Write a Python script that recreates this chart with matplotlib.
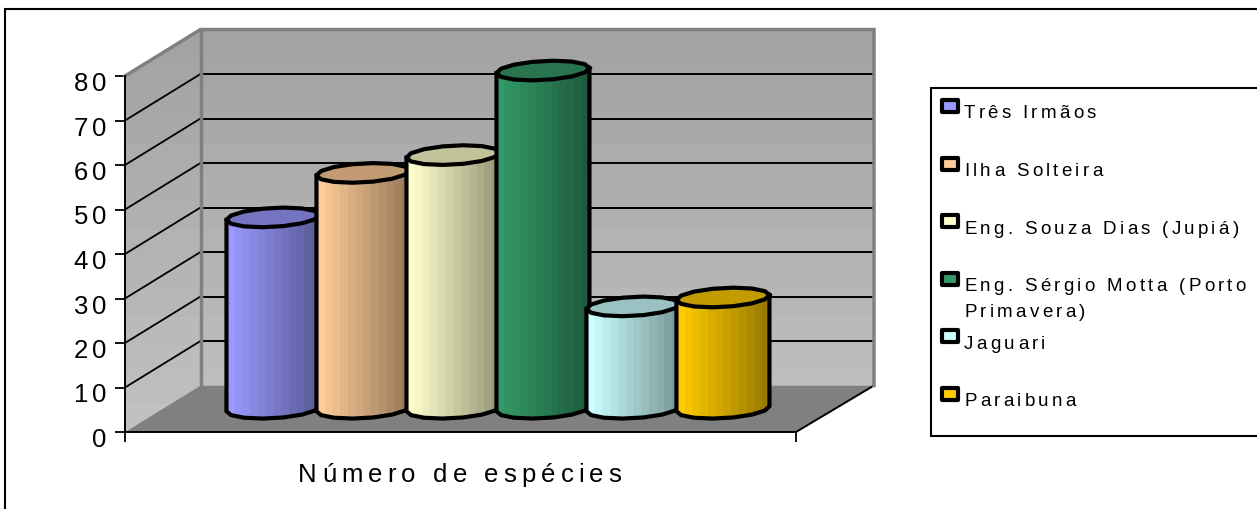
#!/usr/bin/env python3
# -*- coding: utf-8 -*-
import numpy as np
from matplotlib import pyplot as plt
from matplotlib.colors import LinearSegmentedColormap, to_rgb
from matplotlib.patches import Polygon, Rectangle
from matplotlib.text import Text
from matplotlib.transforms import Affine2D, IdentityTransform

categories = ['Três Irmãos', 'Ilha Solteira', 'Eng. Souza Dias (Jupiá)',
              'Eng. Sérgio Motta (Porto\nPrimavera)', 'Jaguari', 'Paraibuna']
values = [43, 53, 57, 76, 23, 25]
colors = ['#9999FF', '#FFCC99', '#FFFFCC', '#339966', '#CCFFFF', '#FFCC00']
y_ticks = [0, 10, 20, 30, 40, 50, 60, 70, 80]
x_title = 'Número de espécies'

W, H = 1257, 510
XMAX = 671 / 90.0    # x axis unit = one cylinder slot (90 px)
DEPTH_X = 75.5 / 90.0
DEPTH_Y = 46.5 / 4.45
WALL_R = XMAX + DEPTH_X + 2.5 / 90.0
FONT = 'Liberation Sans'


class TrackedText(Text):
    """Text with letter spacing, track is in pixels"""
    def __init__(self, *args, track=0, **kwargs):
        super().__init__(*args, **kwargs)
        self.track = track

    def draw(self, renderer):
        s = self.get_text()
        prop = self.get_fontproperties()
        x0, y0 = self.get_transform().transform(self.get_position())
        adv = [renderer.get_text_width_height_descent(s[:i], prop, False)[0]
               for i in range(len(s) + 1)]
        total = adv[-1] + self.track * (len(s) - 1)
        shift = {'left': 0, 'center': total / 2, 'right': total}[self.get_ha()]
        for i, ch in enumerate(s):
            t = Text(x0 - shift + adv[i] + i * self.track, y0, ch,
                     transform=IdentityTransform(), fontproperties=prop,
                     color=self.get_color(), ha='left', va='baseline')
            t.set_figure(self.get_figure())
            t.draw(renderer)


def shade(color, k):
    return tuple(c * k for c in to_rgb(color))


def draw_cylinder(ax, i, value, color):
    width = 93 / 90.0
    a = width / 2
    b = 9.5 / 4.45
    skew = 2.5 / 4.45
    cx = 0.708 + i + a + DEPTH_X / 2
    y0 = DEPTH_Y / 2

    # body in vertical bands, going darker to the right. each band runs to the
    # right end and the next paints over it, so no seams show
    edges = np.linspace(-1, 1, 13)
    for j in range(12):
        u = np.linspace(edges[j], 1, 30)
        low = y0 - b * np.sqrt(1 - u ** 2) + skew * u
        high = value + y0 + skew * u
        k = 1 - 0.4 * j / 11
        ax.fill_between(cx + a * u, low, high, color=shade(color, k),
                        linewidth=0, antialiased=False, clip_on=False, zorder=3)

    # coarse polygon for the ellipses, as in the original
    t = np.linspace(0, 2 * np.pi, 15)
    ex = cx + a * np.cos(t)
    ey = value + y0 + b * np.sin(t) + skew * np.cos(t)
    ax.fill(ex, ey, color=shade(color, 0.76), linewidth=0, clip_on=False, zorder=3)
    ax.plot(ex, ey, color='black', lw=3, solid_joinstyle='round', clip_on=False, zorder=3)

    t = np.linspace(np.pi, 2 * np.pi, 8)
    ox = cx + a * np.cos(t)
    oy = y0 + b * np.sin(t) + skew * np.cos(t)
    ox = np.r_[cx - a, ox, cx + a]
    oy = np.r_[value + y0 - skew, oy, value + y0 + skew]
    ax.plot(ox, oy, color='black', lw=3, solid_joinstyle='round', clip_on=False, zorder=3)


def plot_figure():
    plt.rcParams['font.family'] = FONT
    fig = plt.figure(figsize=(W / 100, H / 100), dpi=100)
    ax = fig.add_axes([125 / W, (H - 433) / H, 671 / W, 356 / H])
    px = Affine2D().scale(1, -1).translate(0, H)  # pixels from top left

    top = y_ticks[-1]

    # walls with a soft vertical gradient
    wall_cmap = LinearSegmentedColormap.from_list('wall', ['#A3A3A3', '#C1C1C1'], N=14)
    im = ax.imshow(np.linspace(0, 1, 14).reshape(-1, 1), cmap=wall_cmap, aspect='auto',
                   extent=[0, WALL_R, 0, top + DEPTH_Y], zorder=0)
    walls = Polygon([(0, 0), (DEPTH_X, DEPTH_Y), (WALL_R, DEPTH_Y),
                     (WALL_R, top + DEPTH_Y), (DEPTH_X, top + DEPTH_Y), (0, top)],
                    transform=ax.transData)
    im.set_clip_path(walls)
    im.set_clip_box(fig.bbox)
    ax.set_xlim(0, XMAX)
    ax.set_ylim(0, top)

    # floor
    ax.add_patch(Polygon([(0, 0), (XMAX, 0), (WALL_R, DEPTH_Y), (DEPTH_X, DEPTH_Y)],
                         facecolor='#808080', edgecolor='none', clip_on=False, zorder=1))
    ax.plot([XMAX, WALL_R], [0, DEPTH_Y], color='black', lw=1.4, clip_on=False, zorder=2)

    # grid on both walls
    for v in y_ticks[1:-1]:
        ax.plot([DEPTH_X, WALL_R], [v + DEPTH_Y, v + DEPTH_Y], color='black',
                lw=1.4, clip_on=False, zorder=1)
        ax.plot([0, DEPTH_X], [v, v + DEPTH_Y], color='black', lw=1.3, clip_on=False, zorder=1)

    # gray edges of the walls
    ax.plot([0, DEPTH_X, WALL_R, WALL_R],
            [top, top + DEPTH_Y, top + DEPTH_Y, DEPTH_Y],
            color='#808080', lw=2.5, clip_on=False, zorder=2, solid_joinstyle='miter')
    ax.plot([DEPTH_X, DEPTH_X], [DEPTH_Y, top + DEPTH_Y], color='#808080', lw=2.5,
            clip_on=False, zorder=2)

    for i, value in enumerate(values):
        draw_cylinder(ax, i, value, colors[i])

    for side in ['top', 'right']:
        ax.spines[side].set_visible(False)
    for side in ['left', 'bottom']:
        ax.spines[side].set_linewidth(1.4)
    ax.patch.set_visible(False)
    ax.set_yticks(y_ticks)
    ax.set_xticks([0, XMAX])
    ax.tick_params(length=7, width=1.3, labelleft=False, labelbottom=False)

    # tick labels and title, letter spaced
    tick_tf = ax.get_yaxis_transform() + Affine2D().translate(-19, -14)
    for v in y_ticks:
        ax.add_artist(TrackedText(0, v, str(v), track=3.5, transform=tick_tf, fontsize=18.5,
                                  ha='right', va='baseline', clip_on=False))
    fig.add_artist(TrackedText(460, 482, x_title, track=5.1, transform=px, fontsize=18.5,
                               ha='center', va='baseline'))

    # outer frame and legend box run past the right edge
    fig.add_artist(Rectangle((5, H + 20), W + 20, -(H + 20 - 9.5), transform=px, fill=False,
                             edgecolor='black', lw=1.5))
    fig.add_artist(Rectangle((931, 437), W, -348, transform=px, facecolor='white',
                             edgecolor='black', lw=1.5))

    for i, label in enumerate(categories):
        y = 107 + 57.6 * i
        fig.add_artist(Rectangle((942, y + 6), 16, -12, transform=px, facecolor=colors[i],
                                 edgecolor='black', lw=3, joinstyle='round'))
        for j, line in enumerate(label.split('\n')):
            fig.add_artist(TrackedText(964, y + 11.5 + 26 * j, line, track=3.3, transform=px,
                                       fontsize=13.5, ha='left', va='baseline'))

    fig.savefig('out.png', dpi=100)


if __name__ == "__main__":
    plot_figure()
